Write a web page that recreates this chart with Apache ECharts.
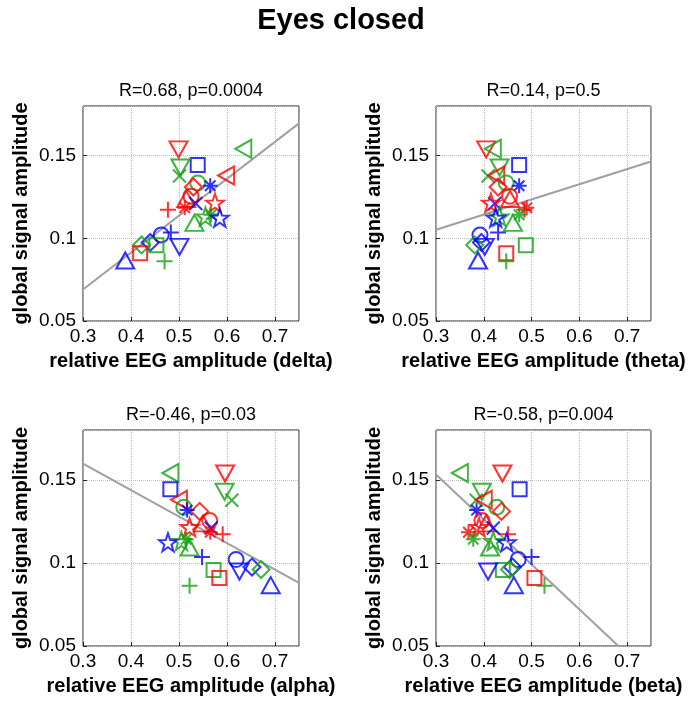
<!DOCTYPE html>
<html>
<head>
<meta charset="utf-8">
<script src="https://cdn.jsdelivr.net/npm/echarts@6/dist/echarts.min.js"></script>
<style>html,body{margin:0;padding:0;background:#fff}#c{width:694px;height:706px}</style>
</head>
<body>
<div id="c"></div>
<script>
// ---- data ----
const subjects = ['S01','S02','S03','S04','S05','S06','S07','S08','S09','S10','S11','S12','S13','S14',
  'S15','S16','S17','S18','S19','S20','S21','S22','S23','S24','S25','S26','S27','S28'];
const globalAmp = [0.1538,0.1541,0.1444,0.1428,0.1377,0.1380,0.1335,0.1310,0.1318,0.1255,0.1238,0.1210,0.1215,0.1185,
  0.1172,0.1142,0.1132,0.1124,0.1093,0.1035,0.1020,0.0975,0.0960,0.0958,0.0948,0.0909,0.0862,0.0866];
const deltaAmp = [0.499,0.634,0.539,0.503,0.501,0.598,0.539,0.530,0.565,0.525,0.515,0.535,0.575,0.512,
  0.477,0.567,0.555,0.585,0.532,0.483,0.463,0.440,0.422,0.453,0.501,0.419,0.470,0.388];
const thetaAmp = [0.405,0.419,0.474,0.433,0.409,0.426,0.447,0.430,0.474,0.454,0.455,0.423,0.415,0.490,
  0.485,0.474,0.433,0.425,0.461,0.430,0.392,0.395,0.381,0.488,0.402,0.447,0.447,0.388];
const alphaAmp = [0.596,0.482,0.482,0.595,0.610,0.500,0.510,0.543,0.517,0.564,0.550,0.567,0.522,0.565,
  0.591,0.515,0.505,0.477,0.522,0.548,0.619,0.652,0.671,0.572,0.626,0.584,0.522,0.691];
const betaAmp = [0.439,0.350,0.475,0.396,0.384,0.400,0.427,0.437,0.385,0.396,0.405,0.420,0.390,0.368,
  0.451,0.378,0.420,0.448,0.413,0.500,0.472,0.460,0.454,0.440,0.409,0.506,0.527,0.463];
const deltaFit = [[0.3,0.069],[0.75,0.1695]];
const thetaFit = [[0.3,0.1052],[0.75,0.1464]];
const alphaFit = [[0.3,0.1598],[0.75,0.088]];
const betaFit = [[0.3,0.1532],[0.6817,0.05]];
const panelTitles = ['R=0.68, p=0.0004','R=0.14, p=0.5','R=-0.46, p=0.03','R=-0.58, p=0.004'];
const bandNames = ['delta','theta','alpha','beta'];
const xTicks = [0.3,0.4,0.5,0.6,0.7];
const yTicks = [0.05,0.1,0.15];
const mainTitle = 'Eyes closed';
const yLabel = 'global signal amplitude';

// ---- styles ----
const subjectColor = ['r','g','b','g','g','r','g','r','b','r','r','b','r','r','r','g','g','b','g','b','b','b','g','g','b','r','g','b'];
const subjectMarker = ['v','<','s','v','x','<','o','d','*','o','^','x','p','*','+','*','p','p','^','+','o','d','d','s','v','s','+','^'];
const colorMap = {r:'#ff0000', g:'#12a012', b:'#0000ff'};
const markerMap = {
  'o': {symbol:'circle', size:15},
  's': {symbol:'rect', size:14},
  'd': {symbol:'diamond', size:17},
  '^': {symbol:'path://M5,0L10,9L0,9Z', size:[18,16]},
  'v': {symbol:'path://M0,0L10,0L5,9Z', size:[18,16]},
  '<': {symbol:'path://M9,0L9,10L0,5Z', size:[16,18]},
  '+': {symbol:'path://M5,0L5,10M0,5L10,5', size:16},
  'x': {symbol:'path://M0,0L10,10M10,0L0,10', size:13},
  '*': {symbol:'path://M5,0L5,10M0,5L10,5M1.5,1.5L8.5,8.5M8.5,1.5L1.5,8.5', size:15},
  'p': {symbol:'path://M5,0L6.18,3.38L9.76,3.45L6.9,5.62L7.94,9.05L5,7L2.06,9.05L3.1,5.62L0.24,3.45L3.82,3.38Z', size:18}
};
const xData = [deltaAmp, thetaAmp, alphaAmp, betaAmp];
const fits = [deltaFit, thetaFit, alphaFit, betaFit];

const grids = [
  {left:83, top:106, width:216, height:215},
  {left:436, top:106, width:215, height:215},
  {left:83, top:430, width:216, height:216},
  {left:436, top:430, width:215, height:216}
];
const FONT = '"Liberation Sans", Arial, Helvetica, sans-serif';
const fmt = v => String(+v.toFixed(2));

const option = {
  backgroundColor:'#fff',
  animation:false,
  grid: grids.map(g => Object.assign({show:true, borderColor:'#262626', borderWidth:1, backgroundColor:'#fff'}, g)),
  xAxis: grids.map((g,i) => ({
    gridIndex:i, type:'value', min:xTicks[0], max:0.75, interval:0.1,
    name:'relative EEG amplitude (' + bandNames[i] + ')', nameLocation:'middle', nameGap:30,
    nameTextStyle:{fontFamily:FONT, fontWeight:'bold', fontSize:20, color:'#000'},
    axisLine:{show:false}, axisTick:{inside:true, length:4, lineStyle:{color:'#262626'}},
    axisLabel:{formatter:fmt, showMaxLabel:false, margin:6, fontFamily:FONT, fontSize:19, color:'#000'},
    splitLine:{show:true, lineStyle:{type:'dotted', color:'#bdbdbd', width:1}}
  })),
  yAxis: grids.map((g,i) => ({
    gridIndex:i, type:'value', min:yTicks[0], max:0.18, interval:0.05,
    name:yLabel, nameLocation:'middle', nameGap:52, nameRotate:90,
    nameTextStyle:{fontFamily:FONT, fontWeight:'bold', fontSize:20, color:'#000'},
    axisLine:{show:false}, axisTick:{inside:true, length:4, lineStyle:{color:'#262626'}},
    axisLabel:{formatter:fmt, showMaxLabel:false, margin:7, fontFamily:FONT, fontSize:19, color:'#000'},
    splitLine:{show:true, lineStyle:{type:'dotted', color:'#bdbdbd', width:1}}
  })),
  series: [],
  graphic: []
};

for (let i = 0; i < 4; i++) {
  option.series.push({
    type:'line', xAxisIndex:i, yAxisIndex:i, data:fits[i], symbol:'none', silent:true,
    lineStyle:{color:'#a0a0a0', width:2}, z:3
  });
  option.series.push({
    type:'scatter', xAxisIndex:i, yAxisIndex:i, z:4,
    data: subjects.map((s,k) => {
      const m = markerMap[subjectMarker[k]];
      return {
        name:s, value:[xData[i][k], globalAmp[k]],
        symbol:m.symbol, symbolSize:m.size,
        itemStyle:{color:'rgba(0,0,0,0)', borderColor:colorMap[subjectColor[k]], borderWidth:2}
      };
    })
  });
  const g = grids[i];
  option.graphic.push({
    type:'text', x:g.left + g.width/2, y:g.top - 15,
    style:{text:panelTitles[i], font:'18px ' + FONT, fill:'#000', textAlign:'center', textVerticalAlign:'middle', align:'center', verticalAlign:'middle'}
  });
}
option.graphic.push({
  type:'text', x:341, y:21,
  style:{text:mainTitle, font:'bold 29px ' + FONT, fill:'#000', textAlign:'center', textVerticalAlign:'middle', align:'center', verticalAlign:'middle'}
});

const chart = echarts.init(document.getElementById('c'), null, {renderer:'canvas'});
chart.setOption(option);
</script>
</body>
</html>
